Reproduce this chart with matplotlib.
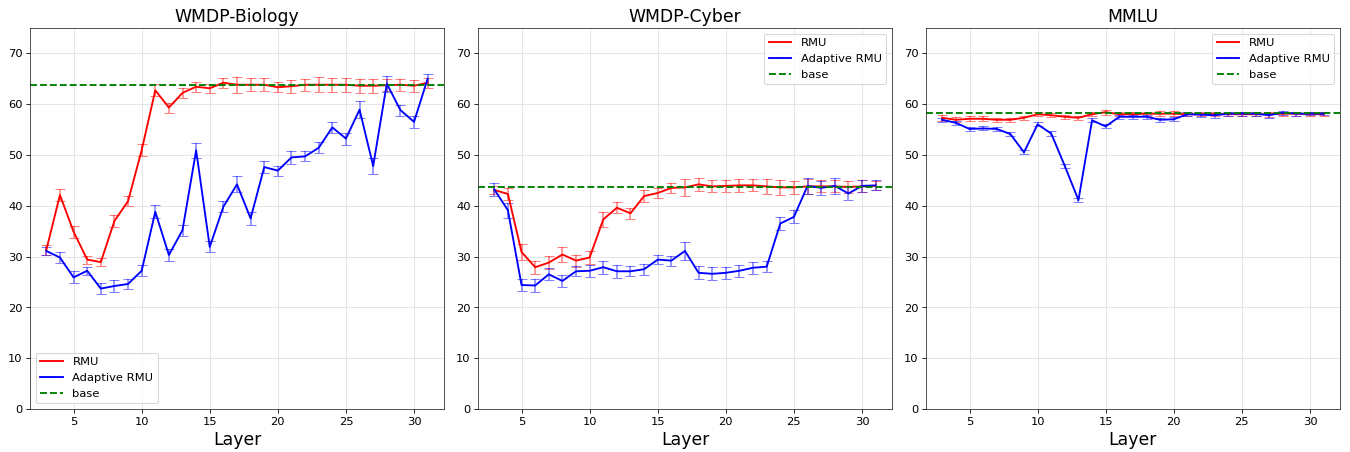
import numpy as np
import matplotlib
matplotlib.use('Agg')
from matplotlib import pyplot as plt

layers = np.arange(3, 32)

bio_rmu = [31.3, 42.1, 34.9, 29.4, 28.9, 37.0, 40.9, 50.9, 62.7, 59.3, 62.2, 63.4, 63.1, 64.2,
           63.8, 63.8, 63.8, 63.3, 63.5, 63.8, 63.8, 63.8, 63.8, 63.6, 63.6, 63.7, 63.8, 63.6, 64.2]
bio_rmu_err = [1.0, 1.2, 1.2, 0.8, 0.8, 1.2, 1.0, 1.2, 1.2, 1.0, 1.0, 1.0, 0.9, 1.0, 1.6,
               1.3, 1.3, 1.0, 1.3, 1.2, 1.5, 1.4, 1.4, 1.4, 1.4, 1.2, 1.2, 1.2, 1.0]
bio_ada = [31.1, 29.8, 25.9, 27.2, 23.7, 24.2, 24.6, 27.2, 38.8, 30.3, 35.2, 50.9, 31.9, 39.8,
           44.2, 37.5, 47.6, 46.9, 49.5, 49.7, 51.4, 55.4, 53.2, 58.9, 47.8, 64.0, 58.8, 56.5, 65.0]
bio_ada_err = [0.8, 1.0, 1.2, 0.8, 1.1, 1.2, 1.0, 1.1, 1.3, 1.1, 1.1, 1.5, 1.1, 1.1, 1.6,
               1.3, 1.2, 1.0, 1.2, 1.0, 1.1, 1.1, 1.2, 1.6, 1.6, 1.6, 1.1, 1.2, 1.0]
bio_base = 63.8

cyb_rmu = [43.1, 42.3, 30.9, 27.9, 28.8, 30.4, 29.2, 29.8, 37.3, 39.6, 38.5, 41.9, 42.5, 43.5,
           43.6, 44.2, 43.8, 43.9, 44.0, 44.0, 43.8, 43.6, 43.6, 43.8, 43.8, 43.8, 43.7, 43.8, 43.9]
cyb_rmu_err = [0.8, 1.2, 1.5, 1.3, 1.3, 1.5, 1.2, 1.2, 1.4, 1.1, 1.1, 1.2, 1.0, 1.0, 1.6,
               1.3, 1.2, 1.2, 1.3, 1.2, 1.5, 1.4, 1.3, 1.4, 1.2, 1.2, 1.2, 1.2, 0.9]
cyb_ada = [43.2, 39.1, 24.4, 24.3, 26.5, 25.2, 27.1, 27.2, 27.9, 27.1, 27.1, 27.5, 29.4, 29.2,
           31.1, 26.8, 26.6, 26.8, 27.2, 27.8, 28.0, 36.5, 37.8, 43.9, 43.5, 43.9, 42.4, 43.9, 44.0]
cyb_ada_err = [1.2, 1.5, 1.2, 1.3, 1.2, 1.2, 1.0, 1.2, 1.3, 1.3, 1.0, 1.1, 0.9, 1.0, 1.7,
               1.3, 1.3, 1.2, 1.2, 1.2, 1.1, 1.3, 1.3, 1.5, 1.3, 1.5, 1.2, 1.2, 1.0]
cyb_base = 43.6

mmlu_rmu = [57.3, 56.9, 57.1, 57.1, 56.9, 56.9, 57.3, 58.0, 57.8, 57.5, 57.3, 58.0, 58.4, 58.0,
            58.0, 58.1, 58.1, 58.1, 58.0, 58.0, 58.0, 58.0, 58.0, 58.0, 58.0, 58.1, 58.1, 58.0, 58.0]
mmlu_rmu_err = [0.6, 0.5, 0.5, 0.5, 0.4, 0.4, 0.4, 0.4, 0.4, 0.4, 0.4, 0.4, 0.5, 0.4, 0.4,
                0.4, 0.5, 0.5, 0.4, 0.4, 0.4, 0.4, 0.4, 0.4, 0.5, 0.4, 0.4, 0.4, 0.4]
mmlu_ada = [56.9, 56.3, 55.1, 55.2, 55.1, 54.1, 50.5, 56.0, 54.2, 47.8, 41.1, 56.8, 55.6, 57.5,
            57.5, 57.5, 56.9, 57.0, 58.0, 57.9, 57.8, 58.1, 58.1, 58.1, 57.8, 58.3, 58.1, 58.1, 58.1]
mmlu_ada_err = [0.4, 0.4, 0.4, 0.4, 0.4, 0.4, 0.4, 0.4, 0.4, 0.4, 0.4, 0.4, 0.4, 0.4, 0.4,
                0.4, 0.4, 0.4, 0.4, 0.4, 0.5, 0.4, 0.4, 0.4, 0.5, 0.4, 0.4, 0.3, 0.3]
mmlu_base = 58.2

titles = ['WMDP-Biology', 'WMDP-Cyber', 'MMLU']
panels = [(bio_rmu, bio_rmu_err, bio_ada, bio_ada_err, bio_base, 'lower left'),
          (cyb_rmu, cyb_rmu_err, cyb_ada, cyb_ada_err, cyb_base, 'upper right'),
          (mmlu_rmu, mmlu_rmu_err, mmlu_ada, mmlu_ada_err, mmlu_base, 'upper right')]

fig, axes = plt.subplots(1, 3, figsize=(18.01, 6.03), dpi=75)
plt.subplots_adjust(left=0.0222, right=0.992, top=0.938, bottom=0.095, wspace=0.082)

for ax, title, (rmu, rmu_err, ada, ada_err, base, loc) in zip(axes, titles, panels):
    # error bars first (no legend entry), then the lines on top
    ax.errorbar(layers, rmu, yerr=rmu_err, fmt='none', ecolor=(1, 0, 0, 0.5), capsize=5)
    ax.errorbar(layers, ada, yerr=ada_err, fmt='none', ecolor=(0, 0, 1, 0.5), capsize=5)
    ax.plot(layers, rmu, color='red', linewidth=1.8, label='RMU')
    ax.plot(layers, ada, color='blue', linewidth=1.8, label='Adaptive RMU')
    ax.axhline(base, color='green', linestyle='--', linewidth=1.8, label='base')
    ax.set_ylim(0, 75)
    ax.set_xlim(1.8, 32.2)
    ax.set_xticks([5, 10, 15, 20, 25, 30])
    ax.set_title(title, fontsize=16.5)
    ax.set_xlabel('Layer', fontsize=16.5)
    ax.tick_params(labelsize=11)
    ax.grid(True, color='#e0e0e0')
    ax.set_axisbelow(True)
    for s in ax.spines.values():
        s.set_color('#333333')
    ax.legend(loc=loc, fontsize=11)

plt.savefig('out.png', dpi=75)
